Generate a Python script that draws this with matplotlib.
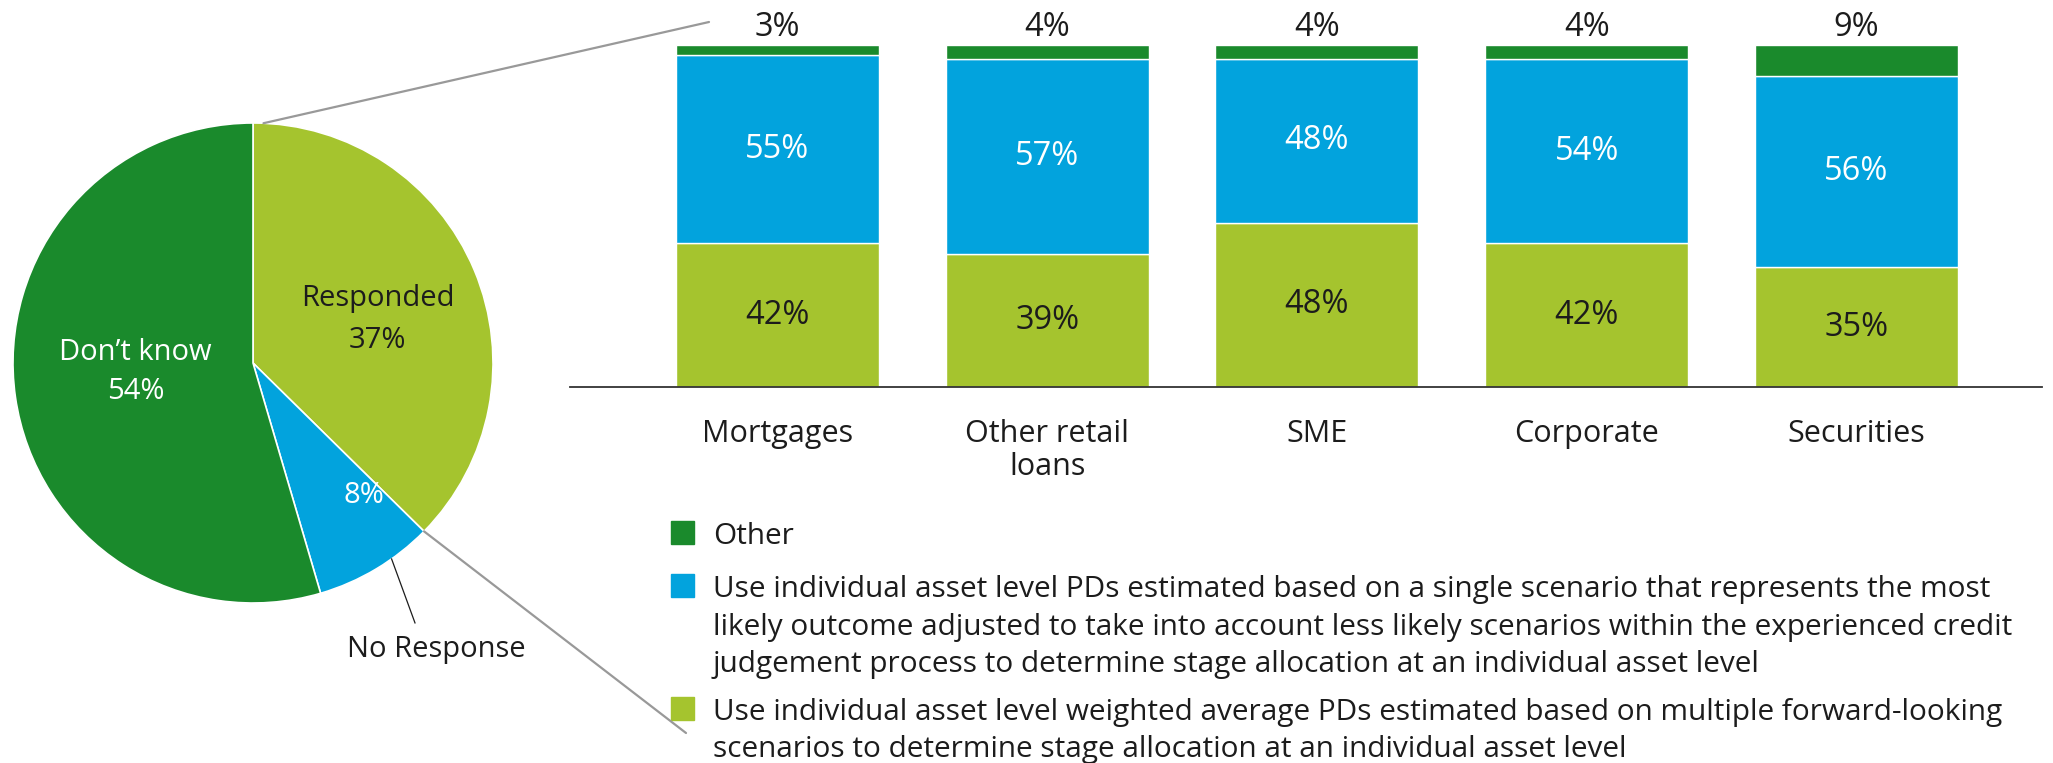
import matplotlib
matplotlib.use("Agg")
import matplotlib.pyplot as plt
import numpy as np
from matplotlib.patches import ConnectionPatch, Rectangle

plt.rcParams["font.family"] = ["Open Sans", "DejaVu Sans"]

# Survey response split (pie)
pie_labels = ["Responded", "No Response", "Don’t know"]
pie_values = [37, 8, 54]

# Approach by portfolio, among respondents (stacked bars, bottom to top)
categories = ["Mortgages", "Other retail\nloans", "SME", "Corporate", "Securities"]
weighted_pd = [42, 39, 48, 42, 35]
single_pd = [55, 57, 48, 54, 56]
other = [3, 4, 4, 4, 9]

legend_labels = [
    ["Other"],
    ["Use individual asset level PDs estimated based on a single scenario that represents the most",
     "likely outcome adjusted to take into account less likely scenarios within the experienced credit",
     "judgement process to determine stage allocation at an individual asset level"],
    ["Use individual asset level weighted average PDs estimated based on multiple forward-looking",
     "scenarios to determine stage allocation at an individual asset level"],
]

DARK_GREEN = "#1a8a2c"
BLUE = "#02a3dd"
LIME = "#a5c42e"
INK = "#1c1c1c"
GREY = "#999999"

W, H = 2053, 763
fig = plt.figure(figsize=(W / 100, H / 100), dpi=100)


def px_box(x0, y0, x1, y1):
    """Axes rectangle from pixel corners (origin top-left)."""
    return [x0 / W, 1 - y1 / H, (x1 - x0) / W, (y1 - y0) / H]


# pixel-space layer for legend and connector lines
ov = fig.add_axes([0, 0, 1, 1])
ov.set_xlim(0, W)
ov.set_ylim(H, 0)
ov.axis("off")

# --- pie ---
cx, cy, r = 253, 363, 240
ax_pie = fig.add_axes(px_box(cx - r, cy - r, cx + r, cy + r))
wedges, _ = ax_pie.pie(pie_values, colors=[LIME, BLUE, DARK_GREEN], startangle=90,
                       counterclock=False,
                       wedgeprops=dict(edgecolor="white", linewidth=1.2))
ax_pie.set_xlim(-1, 1)
ax_pie.set_ylim(-1, 1)

# text, colour, radius, angle shift from the slice middle, line spacing
inside = [
    (f"{pie_labels[0]}\n{pie_values[0]}%", INK, 0.55, -3.6, 1.6),
    (f"{pie_values[1]}%", "white", 0.72, 9.0, 1.2),
    (f"{pie_labels[2]}\n{pie_values[2]}%", "white", 0.49, -3.8, 1.42),
]
for w, (txt, col, rr, shift, ls) in zip(wedges, inside):
    a = np.deg2rad((w.theta1 + w.theta2) / 2 + shift)
    ax_pie.text(rr * np.cos(a), rr * np.sin(a), txt, ha="center", va="center",
                color=col, fontsize=21, linespacing=ls)

# leader for the small slice
w = wedges[1]
a = np.deg2rad(w.theta2 - 0.35 * (w.theta2 - w.theta1))
ax_pie.plot([np.cos(a), 0.675], [np.sin(a), -1.083], color=INK, lw=0.9, clip_on=False)
ax_pie.text(0.765, -1.225, pie_labels[1], ha="center", va="baseline",
            fontsize=21, color=INK)

# grey lines tying the "Responded" slice to the bar panel
wr = wedges[0]
for ang, end in [(wr.theta2 - 2.5, (709, 22)), (wr.theta1, (686, 733))]:
    a = np.deg2rad(ang)
    fig.add_artist(ConnectionPatch(xyA=(np.cos(a), np.sin(a)), coordsA=ax_pie.transData,
                                   xyB=end, coordsB=ov.transData,
                                   color=GREY, lw=1.6))

# --- stacked bars ---
ax = fig.add_axes(px_box(570, 45, 2042, 387))
x = np.arange(len(categories))
bw = 0.753
bottom = np.zeros(len(categories))
for vals, col, tcol in [(weighted_pd, LIME, INK), (single_pd, BLUE, "white"),
                        (other, DARK_GREEN, None)]:
    bars = ax.bar(x, vals, bw, bottom=bottom, color=col, edgecolor="white", linewidth=1.0)
    if tcol:
        ax.bar_label(bars, labels=[f"{v}%" for v in vals], label_type="center",
                     color=tcol, fontsize=23.5)
    bottom += np.array(vals)

for xi, top, v in zip(x, bottom, other):
    ax.annotate(f"{v}%", (xi, top), xytext=(0, 6.5), textcoords="offset points",
                ha="center", va="baseline", fontsize=23.5, color=INK)

ax.set_xlim(-0.769, 4.688)
ax.set_ylim(0, 100)
for side in ("top", "left", "right"):
    ax.spines[side].set_visible(False)
ax.spines["bottom"].set_color("#333333")
ax.spines["bottom"].set_linewidth(1.3)
ax.set_yticks([])
ax.set_xticks(x, categories)
ax.tick_params(axis="x", length=0, pad=23, labelsize=22, colors=INK)
for lbl in ax.get_xticklabels():
    lbl.set_linespacing(1.12)

# --- legend: one swatch per series, lines set on fixed baselines ---
line_pitch = 37.5
for lines, col, yb in zip(legend_labels, [DARK_GREEN, BLUE, LIME], [544, 597, 720]):
    ov.add_patch(Rectangle((671, yb - 23), 23, 23, color=col))
    for k, line in enumerate(lines):
        ov.text(713, yb + k * line_pitch, line, ha="left", va="baseline",
                fontsize=21.4, color=INK)

fig.savefig("out.png", dpi=100)
